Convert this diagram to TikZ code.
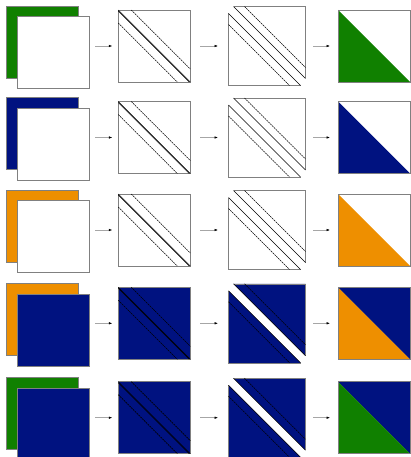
\documentclass[tikz,border=0pt]{standalone}
\usetikzlibrary{arrows.meta}
\definecolor{mgreen}{RGB}{16,128,0}
\definecolor{mblue}{RGB}{0,18,128}
\definecolor{morange}{RGB}{238,143,0}
\definecolor{edgegray}{RGB}{128,128,128}
\tikzset{
  sq/.style={draw=edgegray, line width=0.6pt, minimum size=72pt, inner sep=0pt, outer sep=0pt, anchor=north west},
  conn/.style={draw=gray!70, line width=0.5pt, -{Latex[length=3.5pt,width=2.5pt,color=black]}},
  hyp/.style={draw=black, line width=0.5pt},
  dsh/.style={draw=black, line width=0.6pt, dash pattern=on 1.8pt off 0.8pt},
  rim/.style={draw=edgegray, line width=0.6pt},
}
\begin{document}
\begin{tikzpicture}[x=1pt,y=-1pt]
\useasboundingbox (0,0) rectangle (411,457);
\foreach \i/\Y/\bk/\fr in {1/6/mgreen/white, 2/97.5/mblue/white, 3/190/morange/white, 4/283.3/morange/mblue, 5/377.7/mgreen/mblue}{
  % column 1
  \node[sq, fill=\bk] (b\i) at (6,\Y) {};
  \node[sq, fill=\fr] (f\i) at (17,{\Y+10.5}) {};
  % column 2
  \node[sq, fill=\fr] (m\i) at (118.3,{\Y+4}) {};
  \draw[hyp] (m\i.north west) -- (m\i.south east);
  \draw[hyp] ([yshift=-1pt]m\i.north west) -- ([xshift=-1pt]m\i.south east);
  \draw[dsh] ([xshift=13pt]m\i.north west) -- ([yshift=13pt]m\i.south east);
  \draw[dsh] ([yshift=-13pt]m\i.north west) -- ([xshift=-13pt]m\i.south east);
  % column 3
  \pgfmathsetmacro{\T}{\Y+4}
  \fill[\fr] (233.5,{\T-3.5}) -- (305.5,{\T-3.5}) -- (305.5,{\T+68.5}) -- cycle;
  \fill[\fr] (228.5,{\T+3.5}) -- (228.5,{\T+75.5}) -- (300.5,{\T+75.5}) -- cycle;
  \draw[rim] (233.5,{\T-3.5}) -- (305.5,{\T-3.5}) -- (305.5,{\T+68.5});
  \draw[rim] (228.5,{\T+3.5}) -- (228.5,{\T+75.5}) -- (300.5,{\T+75.5});
  \draw[hyp] (233.5,{\T-3.5}) -- (305.5,{\T+68.5});
  \draw[hyp] (228.5,{\T+3.5}) -- (300.5,{\T+75.5});
  \draw[dsh] (244.5,{\T-3.5}) -- (305.5,{\T+57.5});
  \draw[dsh] (228.5,{\T+14.5}) -- (289.5,{\T+75.5});
  \coordinate (t\i) at (228.5,{\T+36});
  \coordinate (u\i) at (305.5,{\T+36});
  % column 4
  \node[sq] (e\i) at (338,{\Y+4}) {};
  \fill[\fr] (e\i.north west) -- (e\i.north east) -- (e\i.south east) -- cycle;
  \fill[\bk] (e\i.north west) -- (e\i.south west) -- (e\i.south east) -- cycle;
  \draw[rim] (e\i.north west) rectangle (e\i.south east);
  % arrows
  \draw[conn, shorten <=6pt, shorten >=6pt] (f\i.east |- m\i.west) -- (m\i.west);
  \draw[conn, shorten <=9.7pt, shorten >=10.5pt] (m\i.east) -- (t\i);
  \draw[conn, shorten <=7.5pt, shorten >=8pt] (u\i) -- (e\i.west);
}
\end{tikzpicture}
\end{document}
